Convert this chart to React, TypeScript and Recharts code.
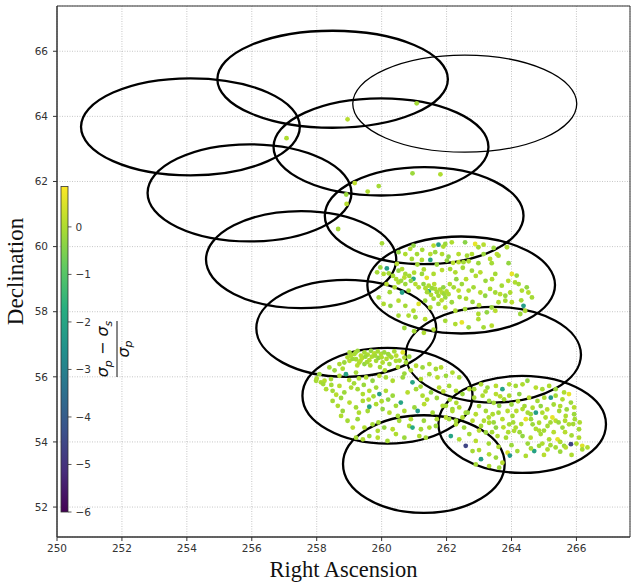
import React from "react";
import {
  CartesianGrid,
  ReferenceArea,
  Scatter,
  ScatterChart,
  XAxis,
  YAxis,
} from "recharts";

// [RA, Dec, (sigma_p - sigma_s) / sigma_p]
type Pt = [number, number, number];

const raTicks = [250, 252, 254, 256, 258, 260, 262, 264, 266];
const decTicks = [52, 54, 56, 58, 60, 62, 64, 66];
const colorbarTicks = [0, -1, -2, -3, -4, -5, -6];
const colorRange = [-6, 0.85];

// pointing footprints (centre and half extents in degrees)
const fieldRa = [254.11, 258.49, 262.56, 259.98, 255.93, 261.31, 257.52, 262.45, 258.91, 263.44, 260.18, 264.33, 261.3];
const fieldDec = [63.68, 65.14, 64.39, 63.06, 61.65, 60.95, 59.6, 58.82, 57.49, 56.68, 55.42, 54.54, 53.32];
const fieldHalfRa = [3.37, 3.55, 3.45, 3.31, 3.14, 3.06, 2.93, 2.89, 2.77, 2.7, 2.62, 2.58, 2.49];
const fieldHalfDec = [1.49, 1.49, 1.49, 1.49, 1.49, 1.49, 1.49, 1.49, 1.49, 1.47, 1.47, 1.49, 1.5];

const sparse: Pt[] = [
  [257.07, 63.33, 0.0], [261.08, 64.4, -0.1], [258.95, 63.91, 0.1], [260.95, 62.25, -0.2],
  [261.81, 62.22, 0.0], [259.17, 61.95, 0.2], [259.91, 61.86, -0.1], [259.57, 61.69, 0.0],
  [258.91, 61.6, -0.2], [258.92, 61.31, 0.1], [258.66, 60.54, -0.1],
];

const clusterNorth: Pt[] = [
  [260.01, 60.1, -0.1], [260.88, 59.93, 0.0], [260.98, 60.03, -0.3], [261.6, 60.03, 0.1], [261.75, 60.06, -2.2],
  [261.96, 60.08, -0.2], [262.16, 60.13, 0.0], [262.57, 60.13, -0.4], [262.88, 60.08, 0.6], [262.98, 59.98, -0.1],
  [263.14, 60.06, 0.1], [263.45, 59.96, -0.2], [263.86, 59.98, 0.0],
  [260.52, 59.83, -0.3], [260.73, 59.77, 0.0], [261.09, 59.77, -0.1], [261.5, 59.77, 0.1], [261.65, 59.83, -0.2],
  [261.86, 59.77, 0.0], [262.06, 59.69, -0.3], [262.37, 59.77, 0.1], [262.63, 59.72, -0.1], [262.78, 59.77, 0.0],
  [263.14, 59.77, -0.2], [263.55, 59.77, 0.2],
  [261.5, 59.59, -2.0], [260.93, 59.62, -0.1], [261.24, 59.59, 0.0], [262.01, 59.57, -0.3], [262.37, 59.52, 0.1],
  [262.52, 59.52, -0.1], [262.68, 59.55, 0.0], [262.98, 59.49, -0.2], [263.34, 59.62, 0.1], [263.39, 59.49, -0.1],
  [263.6, 59.72, 0.0], [263.91, 59.49, -0.3],
  [260.16, 59.33, -2.3], [259.96, 59.36, -0.2], [260.06, 59.16, 0.0], [260.22, 59.18, -0.1], [260.47, 59.47, 0.1],
  [260.52, 59.26, -0.3], [260.63, 59.31, 0.0], [260.73, 59.16, -0.1], [260.98, 59.01, -1.9], [261.39, 59.04, 0.5],
  [261.24, 59.16, -0.2], [261.6, 59.16, 0.0], [261.86, 59.28, 0.1], [262.11, 59.31, -0.1], [262.27, 59.21, 0.0],
  [262.78, 59.26, -0.2], [263.04, 59.21, 0.1], [263.5, 59.16, -0.1], [264.01, 59.16, 0.6], [264.16, 59.11, -0.2],
  [264.11, 58.9, 0.0], [259.86, 59.21, -0.1],
  [260.63, 58.59, -2.1], [260.52, 58.9, 0.0], [260.73, 58.85, -0.2], [261.04, 58.85, 0.1], [260.83, 58.65, -0.1],
  [261.14, 58.75, 0.0], [261.29, 58.85, -0.3], [261.45, 58.62, -2.0], [261.65, 58.7, 0.0], [261.75, 58.49, -0.1],
  [261.86, 58.59, 0.1], [261.96, 58.44, -0.2], [262.06, 58.54, 0.0], [262.22, 58.75, -0.1], [262.37, 58.65, 0.2],
  [262.47, 58.85, -0.2], [262.68, 58.65, 0.0], [262.83, 58.75, -0.1], [263.04, 58.59, 0.1], [263.19, 58.49, -0.3],
  [263.34, 58.7, 0.0], [263.5, 58.59, -0.1], [263.65, 58.54, 0.1], [263.81, 58.49, -0.2], [263.96, 58.59, 0.0],
  [264.22, 58.85, -0.1], [264.32, 58.65, 0.0], [264.47, 58.75, -0.3], [264.52, 58.59, 0.1], [264.63, 58.44, -0.1],
  [264.37, 58.18, -2.2], [264.42, 58.03, 0.0], [264.27, 57.93, -0.2], [264.01, 58.29, 0.1], [263.81, 58.34, -0.1],
  [263.6, 58.29, 0.0], [263.39, 58.13, -0.2],
  [259.91, 58.44, -0.1], [260.06, 58.24, 0.0], [260.27, 58.18, -0.3], [260.52, 58.34, 0.1], [260.73, 58.18, -0.1],
  [260.98, 58.03, 0.0], [261.14, 58.24, 0.5], [261.34, 58.34, -0.2], [261.5, 58.13, 0.0], [261.75, 58.24, -0.1],
  [261.96, 58.13, 0.1], [262.16, 58.29, -0.2], [262.27, 58.03, 0.0], [262.57, 58.08, -0.1], [262.98, 57.93, 0.0],
  [263.24, 57.98, -0.3], [263.5, 58.03, 0.1],
  [260.52, 57.88, -0.1], [260.83, 57.88, 0.0], [261.04, 57.83, -0.2], [261.34, 57.77, 0.1], [261.96, 57.72, -0.1],
  [262.27, 57.62, 0.0], [262.47, 57.67, 0.6], [262.68, 57.52, -0.2], [262.98, 57.77, 0.0], [263.14, 57.52, -0.1],
  [263.39, 57.57, 0.1],
  [261.45, 58.8, 0.0], [261.55, 58.72, -0.2], [261.62, 58.85, 0.1], [261.7, 58.6, -0.1], [261.8, 58.68, 0.0],
  [261.9, 58.75, -0.3], [261.52, 58.52, 0.0], [261.6, 58.4, -0.1], [261.85, 58.35, 0.1], [261.92, 58.55, -0.2],
  [262.0, 58.62, 0.0], [261.4, 58.6, -0.1], [261.35, 58.72, 0.0],
  [260.35, 59.1, -0.1], [260.45, 59.0, 0.0], [260.6, 58.95, -0.2], [260.7, 59.05, 0.1], [260.85, 59.1, -0.1],
  [260.4, 58.75, 0.0], [260.9, 58.95, -0.3], [261.0, 59.2, 0.0], [260.25, 58.6, -0.1], [260.15, 58.85, 0.1],
  [261.0, 57.4, -0.1], [261.3, 57.35, 0.0], [260.7, 57.5, -0.2], [261.6, 57.45, 0.0],
  [261.1, 59.45, -0.1], [261.3, 59.3, 0.0], [261.7, 59.45, -0.2], [262.2, 59.5, 0.1], [262.5, 59.35, -0.1],
  [262.9, 59.1, 0.0], [263.2, 58.95, -0.2], [263.4, 59.0, 0.0], [263.7, 58.8, -0.1], [263.9, 58.95, 0.1],
  [264.3, 58.35, -0.1], [262.6, 58.4, 0.0], [262.8, 58.3, -0.2], [263.0, 58.2, 0.0], [262.4, 58.45, -0.1],
  [262.1, 58.85, 0.0], [262.3, 59.0, -0.3], [262.6, 59.0, 0.1], [261.25, 59.9, -0.1], [261.9, 60.0, 0.0],
];

const clusterWest: Pt[] = [
  [259.01, 56.75, -0.1], [259.16, 56.7, 0.0], [259.26, 56.8, -0.2], [259.36, 56.65, 0.1], [259.47, 56.75, -0.1],
  [259.57, 56.68, 0.0], [259.67, 56.8, -0.3], [259.77, 56.72, 0.1], [259.88, 56.78, -0.1], [259.98, 56.7, 0.0],
  [260.08, 56.75, -0.2], [260.24, 56.65, 0.1], [260.39, 56.78, -0.1], [260.65, 56.75, 0.5], [260.7, 56.59, 0.0],
  [260.85, 56.62, -0.2],
  [258.39, 56.29, -0.1], [258.7, 56.39, 0.0], [258.85, 56.44, -0.2], [259.01, 56.49, 0.1], [259.21, 56.54, -0.1],
  [259.31, 56.44, 0.0], [259.47, 56.39, -0.3], [259.62, 56.51, 0.1], [259.83, 56.49, -0.1], [260.03, 56.44, 0.0],
  [260.24, 56.39, -0.2], [260.44, 56.49, 0.0], [260.75, 56.44, -0.1], [261.06, 56.34, 0.1], [261.26, 56.29, -0.2],
  [261.47, 56.39, 0.0], [261.67, 56.24, -0.1], [261.83, 56.29, 0.1],
  [257.98, 55.88, -0.1], [258.13, 55.83, 0.0], [258.08, 56.08, -0.2], [258.24, 55.88, 0.1], [258.44, 55.93, -0.1],
  [258.7, 56.03, 0.0], [258.9, 56.08, -2.0], [259.21, 56.13, -0.1], [259.52, 55.98, 0.0], [259.72, 55.88, -0.3],
  [259.93, 56.03, 0.1], [260.13, 55.98, -0.1], [260.34, 55.88, 0.0], [260.65, 55.98, -0.2], [260.95, 55.83, -2.0],
  [261.21, 55.93, 0.0], [261.47, 56.08, -0.1], [261.72, 55.98, 0.1], [261.98, 56.03, -0.2], [262.18, 56.13, 0.0],
  [262.39, 55.98, -0.1],
  [258.29, 55.62, 0.0], [258.49, 55.57, -0.1], [258.7, 55.72, 0.1], [258.85, 55.52, -0.2], [259.06, 55.67, 0.0],
  [259.26, 55.62, -0.1], [259.42, 55.47, 0.0], [259.62, 55.57, 0.1], [259.93, 55.47, -2.2], [259.83, 55.67, -0.1],
  [260.13, 55.57, 0.0], [260.34, 55.42, -0.2], [260.59, 55.21, -2.0], [260.8, 55.52, 0.1], [261.06, 55.62, -0.1],
  [261.26, 55.42, 0.0], [261.52, 55.52, -0.3], [261.77, 55.67, 0.1], [262.08, 55.72, -0.1], [262.29, 55.57, 0.0],
  [262.49, 55.47, -0.2], [262.7, 55.62, 0.0],
  [258.49, 55.26, -0.1], [258.65, 55.11, 0.0], [258.8, 54.95, -0.2], [259.01, 55.21, 0.1], [259.21, 55.06, -0.1],
  [259.42, 55.26, 0.0], [259.57, 54.95, -0.1], [259.62, 55.08, -2.1], [259.83, 55.16, 0.0], [260.03, 55.01, -0.3],
  [260.24, 54.9, 0.1], [260.44, 55.11, -0.1], [260.7, 54.95, 0.0], [261.01, 55.06, -0.2], [261.11, 54.95, -2.3],
  [261.31, 55.16, 0.1], [261.57, 54.9, -0.1], [261.88, 55.11, 0.0], [262.18, 55.01, -0.2], [262.39, 55.06, 0.0],
  [262.59, 54.9, -0.1],
  [258.75, 54.8, 0.0], [258.95, 54.65, -0.1], [259.11, 54.44, 0.1], [259.26, 54.7, -0.2], [259.47, 54.44, 0.0],
  [259.72, 54.54, -0.1], [259.88, 54.34, 0.0], [260.08, 54.44, -0.3], [260.34, 54.39, 0.1], [260.54, 54.65, -0.1],
  [260.85, 54.49, 0.0], [260.95, 54.44, -1.8], [261.21, 54.39, -0.1], [261.47, 54.44, 0.0], [261.67, 54.49, -0.2],
  [261.98, 54.75, 0.1], [262.29, 54.65, -0.1], [262.49, 54.75, 0.0],
  [259.21, 54.13, -0.1], [259.42, 54.08, 0.0], [259.62, 54.18, -0.2], [259.88, 54.13, 0.1], [260.18, 54.03, -0.1],
  [260.44, 54.24, 0.0], [260.7, 54.13, -0.2], [261.16, 54.18, 0.0], [261.36, 54.13, -0.1],
  [258.95, 56.6, 0.0], [259.1, 56.55, -0.2], [259.4, 56.58, 0.1], [259.55, 56.45, -0.1], [259.7, 56.62, 0.0],
  [259.9, 56.58, -0.3], [260.15, 56.55, 0.0], [260.3, 56.6, -0.1], [259.25, 56.35, 0.1], [259.95, 56.3, -0.1],
  [260.5, 56.3, 0.0], [258.55, 56.2, -0.2], [258.8, 56.25, 0.0], [258.45, 55.75, -0.1],
  [258.0, 55.95, 0.0], [258.2, 55.78, -0.1], [258.6, 55.45, 0.1], [258.75, 55.35, -0.2], [259.0, 55.9, 0.0],
  [259.15, 55.8, -0.1], [259.3, 55.95, 0.0], [259.45, 55.75, -0.2], [259.6, 55.3, 0.1], [259.75, 55.4, -0.1],
  [260.0, 55.25, 0.0], [260.2, 55.3, -0.3], [259.05, 56.65, 0.0], [259.2, 56.75, -0.1], [259.35, 56.5, 0.1],
  [259.5, 56.62, -0.2], [259.65, 56.35, 0.0], [259.8, 56.65, -0.1], [260.0, 56.6, 0.0], [260.2, 56.7, -0.2],
  [260.45, 56.65, 0.1], [260.55, 56.5, -0.1], [260.1, 56.2, 0.0], [260.7, 56.1, -0.2], [260.9, 56.2, 0.0],
  [261.2, 55.7, -0.1], [261.4, 55.3, 0.0], [261.7, 55.35, -0.2], [261.9, 55.55, 0.1], [262.1, 55.3, -0.1],
  [262.3, 55.2, 0.0], [260.5, 54.8, -0.1], [260.9, 54.7, 0.0], [261.3, 54.65, -0.2], [261.7, 54.7, 0.0],
  [259.9, 54.6, -0.1], [259.3, 54.9, 0.0],
];

const clusterEast: Pt[] = [
  [262.85, 55.62, -0.1], [263.06, 55.77, 0.0], [263.26, 55.67, -0.2], [263.52, 55.72, 0.1], [263.72, 55.62, -2.0],
  [263.93, 55.77, 0.0], [264.13, 55.72, -0.1], [264.34, 55.77, 0.0], [264.49, 55.88, -0.3], [264.75, 55.67, 0.1],
  [264.95, 55.62, -0.1], [265.16, 55.72, 0.0], [265.36, 55.62, -0.2], [265.62, 55.52, 0.0], [265.77, 55.47, 0.6],
  [262.85, 55.36, -0.1], [263.11, 55.42, 0.0], [263.31, 55.26, -0.2], [263.52, 55.47, 0.1], [263.77, 55.31, -0.1],
  [263.93, 55.42, 0.0], [264.24, 55.47, -0.3], [264.54, 55.36, 0.1], [264.8, 55.26, -0.1], [265.01, 55.36, 0.0],
  [265.21, 55.36, -2.4], [265.36, 55.42, -0.1], [265.57, 55.31, 0.0], [265.83, 55.21, -0.2], [265.93, 55.06, 0.1],
  [261.98, 55.11, -0.1], [262.18, 54.95, 0.0], [262.65, 54.9, -0.2], [262.9, 54.85, 0.1], [263.21, 54.95, -0.1],
  [263.42, 54.85, 0.0], [263.62, 55.11, -0.3], [263.88, 54.95, 0.1], [264.03, 54.8, -0.1], [264.34, 55.01, 0.0],
  [264.59, 54.85, -0.2], [264.75, 54.9, -2.2], [264.95, 54.9, 0.0], [265.26, 54.75, 0.6], [265.47, 54.95, -0.1],
  [265.67, 54.8, 0.0], [265.93, 54.85, -0.2],
  [262.08, 54.7, -0.1], [262.29, 54.54, 0.0], [262.54, 54.44, -0.2], [262.8, 54.65, 0.1], [263.06, 54.49, -0.1],
  [263.31, 54.59, 0.0], [263.52, 54.44, -0.3], [263.72, 54.7, 0.1], [263.93, 54.54, -0.1], [264.13, 54.44, 0.0],
  [264.44, 54.7, 0.6], [264.65, 54.54, -0.2], [264.85, 54.59, 0.0], [265.11, 54.49, -0.1], [265.36, 54.65, 0.1],
  [265.57, 54.44, -0.2], [265.77, 54.54, 0.0], [266.08, 54.39, -0.1],
  [262.13, 54.18, -2.0], [262.39, 54.08, 0.0], [262.7, 54.24, -0.1], [262.9, 54.03, 0.1], [263.21, 54.29, -0.2],
  [263.57, 54.18, 0.0], [263.83, 54.13, -0.1], [264.08, 54.34, 0.0], [264.34, 54.18, -0.3], [264.59, 54.13, 0.1],
  [264.9, 54.24, -0.1], [265.16, 54.08, 0.0], [265.42, 54.08, 0.6], [265.62, 53.88, -0.2], [265.83, 53.93, -4.6],
  [266.08, 54.13, 0.0], [266.18, 53.88, 0.5],
  [262.59, 53.88, -4.6], [262.8, 53.72, -0.1], [263.06, 53.47, -2.1], [263.31, 53.62, 0.0], [263.52, 53.52, -0.2],
  [263.72, 53.36, 0.1], [263.88, 53.67, 0.5], [263.95, 53.58, -2.3], [264.18, 53.72, -0.1], [264.44, 53.57, 0.0],
  [264.7, 53.72, -2.1], [264.85, 53.88, -0.2], [265.11, 53.77, 0.0], [265.36, 53.83, -0.1], [265.67, 53.83, 0.1],
  [266.18, 53.77, -0.1], [266.34, 53.83, 0.0],
  [262.9, 53.31, -0.1], [263.31, 53.26, 0.0], [263.62, 53.21, -0.2],
  [263.2, 55.55, 0.0], [263.45, 55.2, -0.1], [263.65, 55.4, 0.1], [264.0, 55.15, -0.2], [264.2, 55.25, 0.0],
  [264.4, 55.1, -0.1], [264.65, 55.05, 0.0], [264.9, 55.1, -0.3], [265.1, 55.0, 0.1], [265.3, 55.15, -0.1],
  [265.5, 55.1, 0.0], [265.7, 55.0, -0.2], [263.3, 54.75, 0.0], [263.6, 54.9, -0.1], [264.15, 54.95, 0.1],
  [264.5, 54.9, -0.1], [265.05, 54.75, 0.0], [265.45, 54.6, -0.2], [265.65, 54.65, 0.0], [265.9, 54.55, -0.1],
  [263.0, 54.35, 0.1], [263.4, 54.3, -0.1], [263.9, 54.3, 0.0], [264.25, 54.3, -0.2], [264.75, 54.4, 0.0],
  [265.0, 54.35, -0.1], [265.3, 54.3, 0.1], [265.85, 54.2, -0.1], [266.0, 53.95, 0.0], [264.5, 53.95, -0.2],
  [264.95, 53.95, 0.0], [265.2, 53.9, -0.1], [265.5, 54.0, 0.0],
  [263.0, 55.1, -0.1], [263.15, 54.65, 0.0], [263.45, 54.6, -0.2], [263.75, 54.45, 0.1], [264.05, 54.6, -0.1],
  [264.3, 54.55, 0.0], [264.6, 54.7, -0.2], [264.85, 54.35, 0.0], [265.2, 54.6, -0.1], [265.65, 54.3, 0.1],
  [265.95, 54.7, -0.1], [266.1, 54.6, 0.0], [264.0, 53.9, -0.2], [263.6, 53.85, 0.0], [263.3, 53.95, -0.1],
  [263.0, 53.75, 0.0], [264.6, 53.8, -0.1], [265.0, 53.6, 0.1], [265.5, 53.7, -0.2], [265.85, 53.6, 0.0],
];

const VIRIDIS = ["#440154", "#472d7b", "#3b528b", "#2c728e", "#21918c", "#28ae80", "#5ec962", "#addc30", "#fde725"];

function viridis(v: number): string {
  const t = Math.min(1, Math.max(0, (v - colorRange[0]) / (colorRange[1] - colorRange[0])));
  const pos = t * (VIRIDIS.length - 1);
  const i = Math.min(VIRIDIS.length - 2, Math.floor(pos));
  const f = pos - i;
  const a = parseInt(VIRIDIS[i].slice(1), 16);
  const b = parseInt(VIRIDIS[i + 1].slice(1), 16);
  const mix = (sh: number) => Math.round(((a >> sh) & 255) * (1 - f) + ((b >> sh) & 255) * f);
  return `rgb(${mix(16)},${mix(8)},${mix(0)})`;
}

const points = [...sparse, ...clusterNorth, ...clusterWest, ...clusterEast].map(([ra, dec, v]) => ({ ra, dec, v }));

const X_DOMAIN: [number, number] = [250, 267.65];
const Y_DOMAIN: [number, number] = [51.08, 67.39];
const tickStyle = { fill: "#333", fontSize: 10.5, fontFamily: "DejaVu Sans" };

// colorbar geometry (inside the axes, lower-left)
const CB = { x: 61, w: 7, top: 186.5, bottom: 512 };

function Colorbar() {
  const yOf = (v: number) =>
    CB.bottom - ((v - colorRange[0]) / (colorRange[1] - colorRange[0])) * (CB.bottom - CB.top);
  return (
    <svg
      width={631}
      height={583}
      style={{ position: "absolute", left: 0, top: 0, pointerEvents: "none" }}
    >
      <defs>
        <linearGradient id="vir" x1="0" y1="1" x2="0" y2="0">
          {VIRIDIS.map((c, i) => (
            <stop key={c} offset={i / (VIRIDIS.length - 1)} stopColor={c} />
          ))}
        </linearGradient>
      </defs>
      <rect x={CB.x} y={CB.top} width={CB.w} height={CB.bottom - CB.top} fill="url(#vir)" stroke="#333" strokeWidth={0.8} />
      {colorbarTicks.map((v) => (
        <g key={v}>
          <line x1={CB.x + CB.w} x2={CB.x + CB.w + 3.5} y1={yOf(v)} y2={yOf(v)} stroke="#333" strokeWidth={0.8} />
          <text x={75.5} y={yOf(v)} dy="0.36em" {...tickStyle}>
            {String(v).replace("-", "\u2212")}
          </text>
        </g>
      ))}
      <g transform="translate(117,349) rotate(-90)" fontFamily="DejaVu Sans" fill="#111">
        <text x={0} y={-9} textAnchor="middle" fontSize={16}>
          <tspan fontStyle="italic">σ</tspan>
          <tspan fontStyle="italic" fontSize={11} dy={4}>p</tspan>
          <tspan dy={-4}> − </tspan>
          <tspan fontStyle="italic">σ</tspan>
          <tspan fontStyle="italic" fontSize={11} dy={4}>s</tspan>
        </text>
        <line x1={-28} x2={28} y1={0} y2={0} stroke="#111" strokeWidth={1} />
        <text x={0} y={12} textAnchor="middle" fontSize={16}>
          <tspan fontStyle="italic">σ</tspan>
          <tspan fontStyle="italic" fontSize={11} dy={3}>p</tspan>
        </text>
      </g>
      <text
        transform="translate(23,271.5) rotate(-90)"
        textAnchor="middle"
        fontFamily="Liberation Serif"
        fontSize={23}
        fill="#111"
      >
        Declination
      </text>
      <text x={343.5} y={577} textAnchor="middle" fontFamily="Liberation Serif" fontSize={22.5} fill="#111">
        Right Ascension
      </text>
    </svg>
  );
}

export default function App() {
  return (
    <div style={{ position: "absolute", left: 0, top: 0, width: 631, height: 583, background: "#fff" }}>
      <ScatterChart width={631} height={583} margin={{ top: 6, right: 1, bottom: 0, left: 0 }}>
        <CartesianGrid stroke="#b8b8b8" strokeDasharray="1 1.5" strokeWidth={0.8} />
        <XAxis
          type="number"
          dataKey="ra"
          domain={X_DOMAIN}
          ticks={raTicks}
          allowDataOverflow
          height={46}
          tickSize={4}
          tickMargin={4}
          tick={tickStyle}
          stroke="#333"
        />
        <YAxis
          type="number"
          dataKey="dec"
          domain={Y_DOMAIN}
          ticks={decTicks}
          allowDataOverflow
          width={57}
          tickSize={4}
          tickMargin={5}
          tick={tickStyle}
          stroke="#333"
        />
        <Scatter
          data={points}
          isAnimationActive={false}
          shape={(p: any) => <circle cx={p.cx} cy={p.cy} r={2.4} fill={viridis(p.payload.v)} />}
        />
        {fieldRa.map((ra, i) => (
          <ReferenceArea
            key={i}
            x1={ra - fieldHalfRa[i]}
            x2={ra + fieldHalfRa[i]}
            y1={fieldDec[i] - fieldHalfDec[i]}
            y2={fieldDec[i] + fieldHalfDec[i]}
            ifOverflow="visible"
            shape={(p: any) => (
              <ellipse
                cx={p.x + p.width / 2}
                cy={p.y + p.height / 2}
                rx={Math.abs(p.width) / 2}
                ry={Math.abs(p.height) / 2}
                fill="none"
                stroke="#000"
                strokeWidth={i === 2 ? 1.3 : 2.3}
              />
            )}
          />
        ))}
        <ReferenceArea
          x1={X_DOMAIN[0]}
          x2={X_DOMAIN[1]}
          y1={Y_DOMAIN[0]}
          y2={Y_DOMAIN[1]}
          ifOverflow="visible"
          fill="none"
          stroke="#333"
          strokeWidth={1}
        />
      </ScatterChart>
      <Colorbar />
    </div>
  );
}
